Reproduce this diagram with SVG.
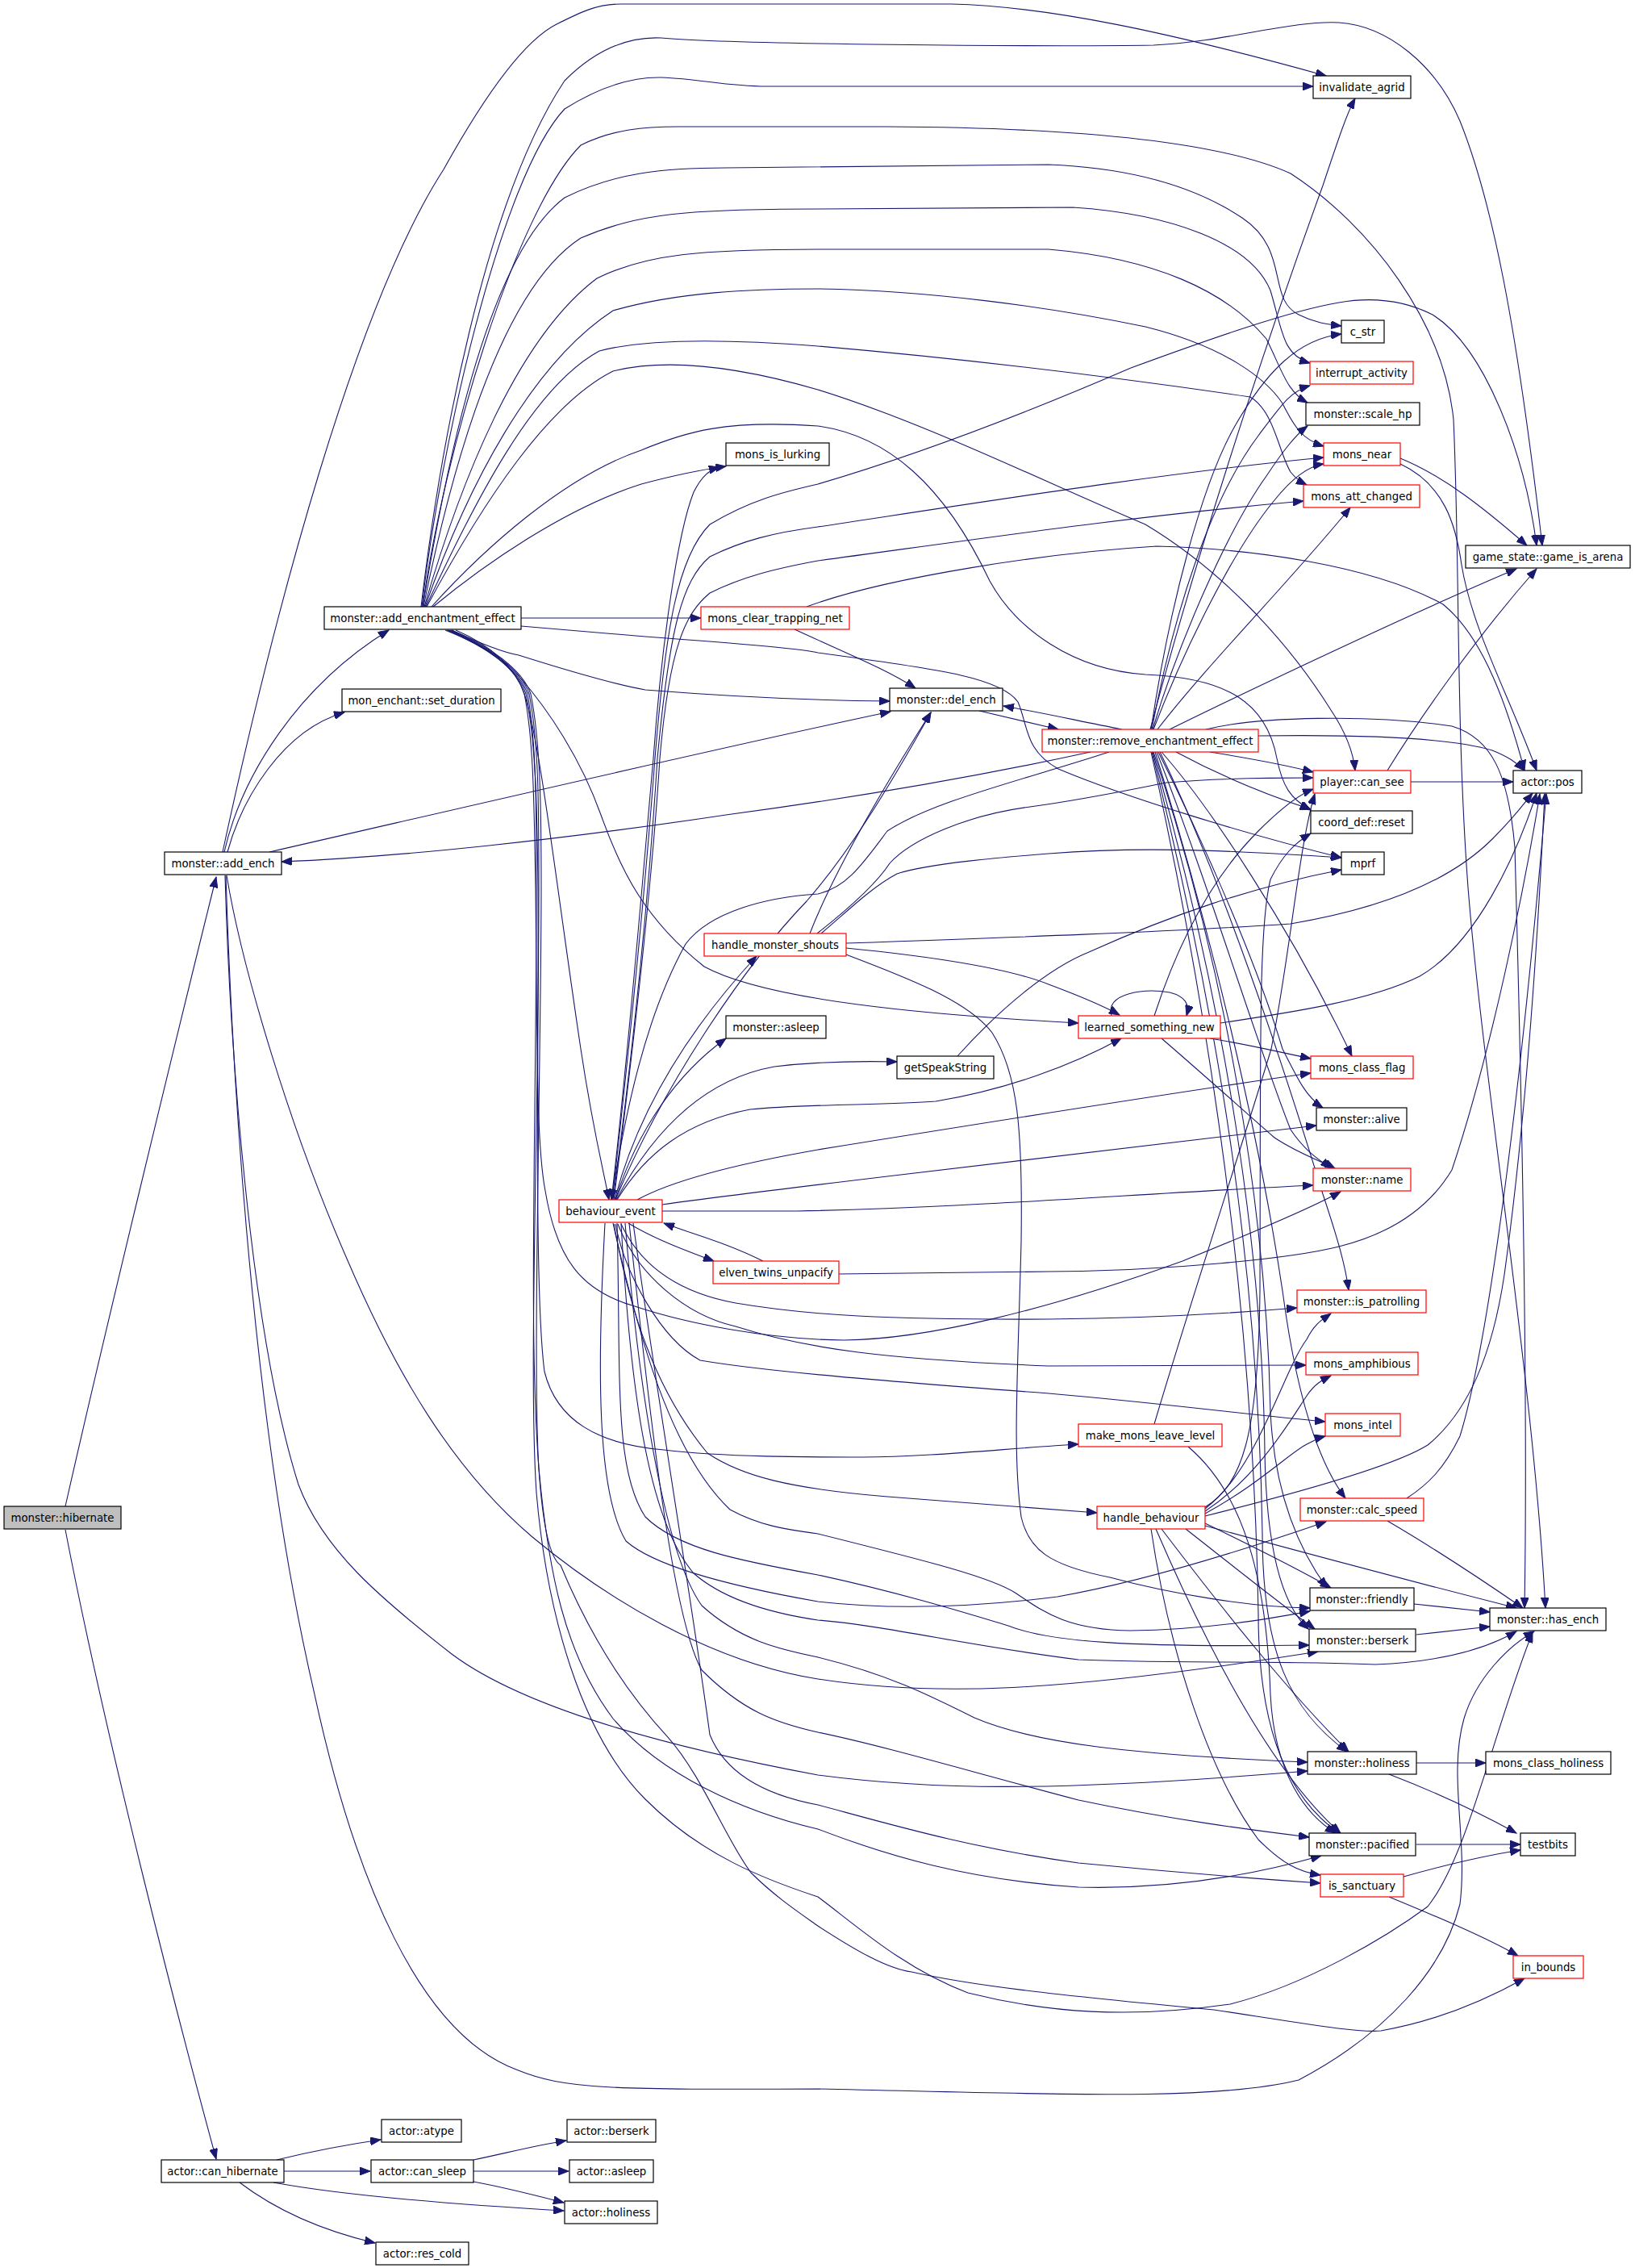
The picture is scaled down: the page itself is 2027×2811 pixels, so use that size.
<svg xmlns="http://www.w3.org/2000/svg" width="2027" height="2811" viewBox="0 0 2027 2811">
<style>
.node rect{fill:#ffffff;stroke:#000000;stroke-width:1.2}
.node.red rect{stroke:#ff0000}
.node.cur rect{fill:#bfbfbf}
.node text{font-family:"DejaVu Sans","Liberation Sans",sans-serif;font-size:13.3px;text-anchor:middle;fill:#000000}
.edges path{fill:none;stroke:#191970;stroke-width:1.1;marker-end:url(#arr)}
</style>
<defs>
<marker id="arr" markerUnits="userSpaceOnUse" markerWidth="14" markerHeight="10" refX="13" refY="5" orient="auto">
<path d="M0,0 L13,5 L0,10 z" fill="#191970" stroke="#191970"/>
</marker>
</defs>
<rect x="0" y="0" width="2027" height="2811" fill="#ffffff"/>
<g class="edges" id="edges">
<path d="M81,1867 C130,1650 220,1280 268,1087"/>
<path d="M81,1896 C130,2150 220,2500 268,2676"/>
<path d="M343,2677 C380,2668 430,2658 472,2652"/>
<path d="M352,2691 L459,2691"/>
<path d="M339,2705 C420,2720 560,2732 699,2740"/>
<path d="M297,2705 C330,2730 380,2760 465,2780"/>
<path d="M587,2677 C630,2668 660,2660 702,2653"/>
<path d="M587,2691 L705,2691"/>
<path d="M587,2704 C630,2712 660,2720 699,2730"/>
<path d="M278,1056 C300,960 370,850 482,781"/>
<path d="M282,1056 C300,990 350,905 427,883"/>
<path d="M276,1056 C340,760 440,380 550,210 C600,120 650,50 690,30 C720,15 740,5 770,5 L1180,5 C1300,8 1450,40 1644,94"/>
<path d="M334,1056 C600,995 900,925 1104,882"/>
<path d="M280,1085 C290,1400 320,1800 390,2100 C440,2330 520,2520 640,2565 C700,2590 760,2590 1014,2589 C1300,2595 1500,2605 1610,2578 C1720,2520 1790,2440 1810,2360 C1820,2280 1795,2200 1815,2130 C1830,2080 1870,2040 1902,2022"/>
<path d="M279,1085 C285,1300 310,1650 370,1840 C400,1920 470,1980 560,2050 C640,2110 800,2160 1014,2200 C1150,2218 1300,2222 1621,2195"/>
<path d="M281,1085 C300,1200 360,1400 430,1560 C490,1700 560,1820 660,1905 C750,1980 880,2060 1014,2081 C1150,2102 1300,2100 1634,2047"/>
<path d="M1352,932 C1200,965 1050,990 900,1010 C700,1040 500,1062 349,1068"/>
<path d="M522,752 C545,560 600,250 700,100 C740,60 780,45 820,47 C900,55 1300,58 1430,56 C1520,52 1600,25 1660,28 C1720,32 1780,80 1810,150 C1850,250 1880,400 1912,676"/>
<path d="M523,752 C545,560 620,220 700,135 C740,110 780,95 820,96 C870,98 900,107 950,107 L1628,107"/>
<path d="M524,752 C550,560 640,260 720,180 C760,160 800,157 840,157 L1100,157 C1300,158 1500,170 1600,215 C1700,280 1790,400 1802,520 C1810,700 1805,900 1820,1100 C1840,1350 1900,1700 1916,1993"/>
<path d="M524,752 C550,600 600,320 700,245 C760,215 820,208 900,208 L1300,204 C1400,208 1480,230 1540,270 C1600,310 1570,370 1610,390 C1630,400 1645,402 1663,404"/>
<path d="M525,752 C560,580 620,360 720,295 C790,265 850,259 1014,259 L1330,257 C1450,265 1550,300 1575,360 C1590,410 1590,440 1624,450"/>
<path d="M526,752 C570,600 640,420 740,345 C800,315 870,309 1014,309 L1300,309 C1430,320 1520,360 1570,420 C1590,460 1595,485 1621,499"/>
<path d="M527,752 C580,600 660,450 760,385 C840,362 930,358 1014,358 C1150,360 1300,380 1420,405 C1520,430 1570,470 1590,500 C1605,530 1615,545 1641,553"/>
<path d="M528,752 C590,620 660,480 743,435 C800,420 900,420 1014,429 C1200,445 1400,470 1550,492 C1580,510 1585,560 1600,585 C1608,595 1614,598 1620,601"/>
<path d="M529,752 C600,620 680,500 760,460 C820,445 900,450 1014,483 C1150,525 1300,600 1420,650 C1520,710 1600,800 1650,880 C1670,910 1678,935 1680,955"/>
<path d="M535,752 C600,680 700,590 795,558 C850,535 900,520 1014,528 C1100,540 1170,600 1227,720 C1260,780 1330,830 1420,836 C1520,840 1570,870 1583,940 C1590,975 1600,990 1625,1004"/>
<path d="M537,752 C600,700 700,630 795,600 C840,588 870,582 900,578"/>
<path d="M646,766 L869,766"/>
<path d="M560,781 C590,795 620,808 643,812 C700,830 760,848 800,855 C900,863 1000,868 1103,869"/>
<path d="M646,776 C720,782 760,786 800,789 C950,800 1000,805 1014,809 C1150,828 1240,838 1262,870 C1275,900 1270,930 1312,953 C1400,990 1550,1035 1663,1063"/>
<path d="M556,781 C600,800 630,820 645,840 C680,880 720,940 745,1010 C770,1080 800,1140 873,1198 C950,1240 1150,1258 1337,1268"/>
<path d="M565,781 C610,800 640,830 650,860 C670,920 690,1100 720,1300 C735,1400 748,1450 755,1487"/>
<path d="M552,781 C600,800 640,825 650,860 C662,920 662,1000 664,1100 C666,1300 665,1420 676,1476 C690,1560 720,1600 787,1619 C850,1640 950,1660 1046,1661 C1150,1660 1300,1623 1466,1563 C1560,1525 1630,1495 1662,1477"/>
<path d="M554,781 C600,800 642,828 652,860 C664,920 666,1000 667,1100 C668,1300 662,1600 675,1700 C690,1760 740,1790 823,1797 C900,1806 1000,1806 1069,1806 C1150,1806 1250,1795 1337,1790"/>
<path d="M556,781 C602,800 644,830 654,860 C665,920 665,1000 665,1100 C665,1400 655,1650 668,1820 C680,1950 700,2050 760,2130 C820,2200 920,2245 1014,2267 C1100,2300 1200,2330 1337,2339 C1450,2342 1550,2325 1638,2300"/>
<path d="M558,781 C604,800 646,830 656,860 C668,920 668,1000 668,1100 C668,1400 655,1700 665,1850 C678,2000 720,2150 800,2230 C870,2300 950,2330 1014,2351 C1060,2385 1120,2440 1200,2470 C1300,2495 1400,2502 1525,2484 C1620,2460 1720,2400 1770,2363 C1820,2300 1850,2150 1900,2023"/>
<path d="M560,781 C606,800 648,830 658,860 C670,920 671,1000 671,1100 C671,1300 660,1700 668,1820 C672,1880 680,1930 695,1940 C720,2000 760,2080 828,2153 C870,2200 900,2280 931,2321 C960,2350 990,2370 1014,2387 C1060,2417 1100,2440 1130,2444 C1200,2460 1300,2472 1505,2491 C1600,2505 1680,2520 1712,2517 C1780,2505 1840,2480 1890,2452"/>
<path d="M758,1487 C780,1300 800,1050 810,940 C820,800 840,660 860,610 C870,590 880,582 892,579"/>
<path d="M759,1487 C780,1300 800,1100 812,940 C825,780 840,690 880,650 C930,620 970,610 1014,600 C1150,560 1300,500 1402,456 C1500,420 1600,385 1660,375 C1700,368 1740,372 1776,390 C1840,430 1890,560 1905,676"/>
<path d="M760,1487 C785,1300 805,1100 815,940 C830,780 845,720 880,690 C920,670 960,660 1014,653 C1200,625 1450,585 1641,567"/>
<path d="M761,1487 C785,1300 808,1100 818,940 C830,800 850,760 880,735 C920,715 960,705 1014,695 C1200,670 1400,640 1616,621"/>
<path d="M763,1487 C820,1350 920,1200 1000,1117 C1050,1060 1100,980 1154,883"/>
<path d="M762,1487 C790,1380 850,1280 938,1185"/>
<path d="M763,1487 C790,1400 840,1330 900,1287"/>
<path d="M764,1487 C800,1420 860,1340 960,1322 C1020,1315 1070,1315 1112,1316"/>
<path d="M765,1487 C800,1430 850,1390 930,1375 C1000,1368 1100,1370 1160,1365 C1250,1350 1330,1320 1390,1287"/>
<path d="M790,1487 C830,1465 900,1445 1014,1425 C1200,1395 1450,1355 1625,1330"/>
<path d="M821,1493 C900,1482 1000,1470 1100,1458 C1300,1435 1500,1410 1632,1395"/>
<path d="M821,1501 L988,1501 C1200,1497 1400,1480 1628,1469"/>
<path d="M779,1516 C810,1535 850,1550 885,1563"/>
<path d="M946,1563 C900,1540 860,1530 823,1516"/>
<path d="M770,1517 C790,1560 830,1600 912,1615 C1000,1630 1100,1636 1300,1635 C1400,1634 1500,1630 1608,1621"/>
<path d="M766,1517 C790,1580 850,1630 912,1644 C1000,1672 1100,1685 1300,1693 L1619,1692"/>
<path d="M763,1517 C775,1580 820,1660 868,1686 C950,1700 1100,1712 1300,1727 C1450,1740 1560,1755 1643,1762"/>
<path d="M761,1517 C780,1620 810,1720 877,1801 C920,1830 980,1845 1100,1855 C1200,1862 1300,1870 1360,1875"/>
<path d="M760,1516 C790,1650 830,1800 905,1871 C940,1890 970,1895 1014,1901 C1150,1935 1230,1955 1260,1975 C1290,1995 1320,2020 1402,2021 C1500,2020 1580,2005 1624,1997"/>
<path d="M765,1516 C770,1700 760,1820 800,1880 C840,1920 920,1935 1014,1952 C1120,1975 1200,2000 1250,2015 C1300,2035 1400,2042 1623,2039"/>
<path d="M750,1516 C740,1700 740,1850 776,1910 C810,1940 900,1965 1014,1985 C1100,1995 1200,1993 1311,1979 C1420,1960 1560,1915 1644,1886"/>
<path d="M770,1516 C780,1700 800,1880 860,1950 C900,1985 960,2000 1014,2008 C1100,2015 1200,2040 1337,2057 C1450,2062 1600,2058 1705,2063 C1780,2060 1840,2045 1880,2022"/>
<path d="M775,1516 C790,1700 820,1920 870,1990 C920,2035 970,2045 1014,2054 C1100,2075 1150,2100 1208,2129 C1280,2160 1400,2175 1621,2184"/>
<path d="M780,1516 C800,1700 830,2000 870,2070 C920,2120 960,2135 1014,2147 C1100,2165 1200,2195 1337,2231 C1450,2255 1550,2268 1623,2277"/>
<path d="M785,1516 C810,1700 860,2000 880,2150 C900,2200 950,2225 1014,2237 C1100,2260 1200,2290 1337,2309 C1450,2320 1550,2328 1637,2334"/>
<path d="M1040,1579 L1300,1576 C1450,1575 1600,1560 1660,1545 C1720,1530 1770,1500 1800,1450 C1850,1300 1890,1100 1909,984"/>
<path d="M1049,1175 C1150,1185 1250,1200 1300,1220 C1340,1235 1365,1245 1388,1258"/>
<path d="M1013,1157 C1060,1120 1090,1090 1103,1070 C1130,1040 1200,1010 1277,1000 C1350,990 1420,975 1446,970 C1500,965 1580,964 1628,964"/>
<path d="M1018,1157 C1050,1130 1080,1100 1112,1083 C1150,1070 1250,1062 1300,1058 C1400,1050 1500,1052 1663,1063"/>
<path d="M1004,1157 C1030,1090 1080,1000 1154,883"/>
<path d="M1049,1169 C1250,1162 1450,1155 1600,1145 C1720,1125 1800,1090 1850,1040 C1880,1010 1890,995 1900,983"/>
<path d="M1049,1183 C1120,1210 1200,1240 1230,1280 C1262,1330 1268,1400 1266,1540 C1262,1700 1255,1800 1266,1880 C1275,1920 1300,1940 1376,1955 C1450,1975 1550,1992 1624,1993"/>
<path d="M1187,1309 C1240,1250 1300,1200 1350,1180 C1450,1135 1550,1100 1663,1078"/>
<path d="M985,780 C1050,810 1100,830 1135,853"/>
<path d="M1000,752 C1100,715 1300,685 1434,677 C1550,680 1700,700 1789,749 C1840,790 1870,880 1890,955"/>
<path d="M1378,1259 C1370,1230 1420,1225 1450,1230 C1470,1235 1475,1245 1471,1259"/>
<path d="M1431,1259 C1460,1170 1500,1090 1560,1030 C1590,1000 1610,985 1628,978"/>
<path d="M1513,1268 C1600,1255 1700,1240 1760,1210 C1830,1170 1880,1060 1905,983"/>
<path d="M1500,1287 C1550,1295 1590,1305 1625,1312"/>
<path d="M1440,1287 C1490,1330 1540,1375 1580,1410 C1610,1430 1640,1440 1655,1448"/>
<path d="M1214,881 L1312,904"/>
<path d="M1391,904 C1330,892 1290,883 1244,875"/>
<path d="M1426,904 C1480,700 1560,450 1640,230 C1660,170 1670,140 1680,122"/>
<path d="M1427,904 C1450,750 1490,600 1531,528 C1570,460 1610,420 1663,414"/>
<path d="M1428,904 C1455,760 1500,620 1560,540 C1590,500 1600,485 1624,478"/>
<path d="M1429,904 C1460,800 1520,660 1570,590 C1590,560 1605,540 1621,528"/>
<path d="M1430,904 C1470,800 1530,680 1580,620 C1600,595 1620,578 1641,575"/>
<path d="M1435,904 C1500,820 1600,720 1674,629"/>
<path d="M1450,904 C1550,855 1750,760 1880,705"/>
<path d="M1375,932 C1268,967 1156,993 1100,1030 C1070,1070 1050,1100 1014,1108 C950,1112 880,1130 850,1170 C800,1260 775,1380 758,1487"/>
<path d="M1560,912 C1700,910 1800,915 1850,930 C1870,938 1880,945 1890,955"/>
<path d="M1495,904 C1560,888 1700,885 1800,900 C1850,915 1870,960 1878,1050 C1885,1300 1895,1700 1890,1993"/>
<path d="M1500,932 C1550,940 1590,947 1628,957"/>
<path d="M1458,932 C1510,960 1570,985 1625,1003"/>
<path d="M1440,932 C1500,1000 1600,1150 1676,1309"/>
<path d="M1436,932 C1500,1060 1560,1200 1590,1300 C1610,1340 1620,1360 1640,1373"/>
<path d="M1434,932 C1500,1100 1560,1300 1600,1400 C1620,1430 1640,1440 1650,1448"/>
<path d="M1438,932 C1520,1100 1600,1350 1640,1480 C1660,1540 1668,1570 1672,1599"/>
<path d="M1432,932 C1500,1150 1560,1400 1590,1600 C1610,1750 1640,1820 1668,1857"/>
<path d="M1430,932 C1520,1200 1570,1500 1575,1750 C1580,1850 1610,1920 1645,1968"/>
<path d="M1429,932 C1520,1250 1565,1550 1568,1800 C1570,1920 1590,1990 1622,2019"/>
<path d="M1428,932 C1520,1300 1560,1600 1565,1900 C1565,2050 1600,2120 1670,2171"/>
<path d="M1427,932 C1520,1350 1555,1700 1560,2000 C1560,2150 1600,2230 1660,2272"/>
<path d="M1720,955 C1760,890 1830,790 1905,705"/>
<path d="M1736,568 C1790,590 1840,630 1893,676"/>
<path d="M1736,575 C1790,600 1805,650 1812,700 C1825,780 1870,860 1905,955"/>
<path d="M1749,969 L1876,969"/>
<path d="M1494,1888 C1560,1920 1610,1945 1650,1968"/>
<path d="M1494,1891 C1600,1920 1750,1960 1880,1993"/>
<path d="M1470,1895 C1540,1950 1590,1990 1630,2019"/>
<path d="M1440,1895 C1520,2000 1600,2100 1672,2171"/>
<path d="M1433,1895 C1500,2050 1580,2200 1662,2272"/>
<path d="M1427,1895 C1450,2050 1500,2200 1560,2280 C1590,2310 1610,2320 1637,2324"/>
<path d="M1494,1870 C1560,1820 1590,1700 1620,1660 C1630,1640 1640,1635 1650,1628"/>
<path d="M1494,1873 C1560,1830 1600,1760 1620,1730 C1630,1715 1640,1710 1650,1705"/>
<path d="M1494,1876 C1560,1840 1600,1800 1620,1790 C1630,1785 1635,1782 1643,1780"/>
<path d="M1494,1879 C1650,1840 1740,1810 1770,1791 C1820,1750 1850,1680 1865,1580 C1890,1400 1905,1200 1915,984"/>
<path d="M1494,1868 C1540,1840 1560,1780 1562,1600 C1563,1300 1560,1150 1575,1090 C1590,1060 1605,1045 1625,1033"/>
<path d="M1744,1857 C1770,1840 1790,1821 1810,1780 C1850,1650 1890,1300 1917,984"/>
<path d="M1720,1885 C1780,1920 1840,1960 1888,1993"/>
<path d="M1431,1765 C1480,1600 1540,1420 1576,1300 C1600,1180 1610,1050 1630,984"/>
<path d="M1473,1793 C1540,1850 1570,1950 1575,2100 C1580,2200 1620,2250 1656,2272"/>
<path d="M1753,1988 L1847,1998"/>
<path d="M1756,2026 L1847,2016"/>
<path d="M1756,2185 L1842,2185"/>
<path d="M1722,2199 C1790,2225 1840,2250 1880,2272"/>
<path d="M1756,2286 L1885,2286"/>
<path d="M1740,2326 C1790,2312 1840,2300 1885,2293"/>
<path d="M1722,2351 C1780,2375 1840,2400 1882,2424"/>
</g>
<g id="n_hibernate" class="node cur"><rect x="5" y="1867" width="145" height="28"/><text x="77.5" y="1885.5">monster::hibernate</text></g>
<g id="n_add_ench" class="node"><rect x="204" y="1056" width="145" height="28"/><text x="276.5" y="1074.5">monster::add_ench</text></g>
<g id="n_can_hibernate" class="node"><rect x="200" y="2677" width="152" height="28"/><text x="276" y="2695.5">actor::can_hibernate</text></g>
<g id="n_add_enchantment_effect" class="node"><rect x="402" y="752" width="244" height="28"/><text x="524" y="770.5">monster::add_enchantment_effect</text></g>
<g id="n_set_duration" class="node"><rect x="424" y="854" width="197" height="28"/><text x="522.5" y="872.5">mon_enchant::set_duration</text></g>
<g id="n_mons_is_lurking" class="node"><rect x="900" y="549" width="128" height="28"/><text x="964" y="567.5">mons_is_lurking</text></g>
<g id="n_mons_clear_trapping_net" class="node red"><rect x="869" y="752" width="184" height="28"/><text x="961" y="770.5">mons_clear_trapping_net</text></g>
<g id="n_del_ench" class="node"><rect x="1103" y="853" width="140" height="28"/><text x="1173" y="871.5">monster::del_ench</text></g>
<g id="n_remove_enchantment_effect" class="node red"><rect x="1292" y="904" width="268" height="28"/><text x="1426" y="922.5">monster::remove_enchantment_effect</text></g>
<g id="n_handle_monster_shouts" class="node red"><rect x="873" y="1157" width="176" height="28"/><text x="961" y="1175.5">handle_monster_shouts</text></g>
<g id="n_asleep" class="node"><rect x="900" y="1259" width="124" height="28"/><text x="962" y="1277.5">monster::asleep</text></g>
<g id="n_getSpeakString" class="node"><rect x="1112" y="1309" width="120" height="28"/><text x="1172" y="1327.5">getSpeakString</text></g>
<g id="n_learned_something_new" class="node red"><rect x="1337" y="1259" width="176" height="28"/><text x="1425" y="1277.5">learned_something_new</text></g>
<g id="n_behaviour_event" class="node red"><rect x="693" y="1487" width="128" height="28"/><text x="757" y="1505.5">behaviour_event</text></g>
<g id="n_elven_twins_unpacify" class="node red"><rect x="884" y="1563" width="156" height="28"/><text x="962" y="1581.5">elven_twins_unpacify</text></g>
<g id="n_make_mons_leave_level" class="node red"><rect x="1337" y="1765" width="178" height="28"/><text x="1426" y="1783.5">make_mons_leave_level</text></g>
<g id="n_handle_behaviour" class="node red"><rect x="1360" y="1867" width="134" height="28"/><text x="1427" y="1885.5">handle_behaviour</text></g>
<g id="n_invalidate_agrid" class="node"><rect x="1628" y="94" width="121" height="28"/><text x="1688.5" y="112.5">invalidate_agrid</text></g>
<g id="n_c_str" class="node"><rect x="1663" y="397" width="53" height="28"/><text x="1689.5" y="415.5">c_str</text></g>
<g id="n_interrupt_activity" class="node red"><rect x="1624" y="448" width="128" height="28"/><text x="1688" y="466.5">interrupt_activity</text></g>
<g id="n_scale_hp" class="node"><rect x="1619" y="499" width="141" height="28"/><text x="1689.5" y="517.5">monster::scale_hp</text></g>
<g id="n_mons_near" class="node red"><rect x="1641" y="549" width="95" height="28"/><text x="1688.5" y="567.5">mons_near</text></g>
<g id="n_mons_att_changed" class="node red"><rect x="1616" y="601" width="144" height="28"/><text x="1688" y="619.5">mons_att_changed</text></g>
<g id="n_game_is_arena" class="node"><rect x="1817" y="676" width="204" height="28"/><text x="1919" y="694.5">game_state::game_is_arena</text></g>
<g id="n_can_see" class="node red"><rect x="1628" y="955" width="121" height="28"/><text x="1688.5" y="973.5">player::can_see</text></g>
<g id="n_actor_pos" class="node"><rect x="1876" y="955" width="85" height="28"/><text x="1918.5" y="973.5">actor::pos</text></g>
<g id="n_coord_def_reset" class="node"><rect x="1625" y="1005" width="126" height="28"/><text x="1688" y="1023.5">coord_def::reset</text></g>
<g id="n_mprf" class="node"><rect x="1663" y="1056" width="53" height="28"/><text x="1689.5" y="1074.5">mprf</text></g>
<g id="n_mons_class_flag" class="node red"><rect x="1625" y="1309" width="127" height="28"/><text x="1688.5" y="1327.5">mons_class_flag</text></g>
<g id="n_alive" class="node"><rect x="1632" y="1373" width="112" height="28"/><text x="1688" y="1391.5">monster::alive</text></g>
<g id="n_name" class="node red"><rect x="1628" y="1448" width="121" height="28"/><text x="1688.5" y="1466.5">monster::name</text></g>
<g id="n_is_patrolling" class="node red"><rect x="1608" y="1599" width="160" height="28"/><text x="1688" y="1617.5">monster::is_patrolling</text></g>
<g id="n_mons_amphibious" class="node red"><rect x="1619" y="1676" width="139" height="28"/><text x="1688.5" y="1694.5">mons_amphibious</text></g>
<g id="n_mons_intel" class="node red"><rect x="1643" y="1752" width="93" height="28"/><text x="1689.5" y="1770.5">mons_intel</text></g>
<g id="n_calc_speed" class="node red"><rect x="1612" y="1857" width="153" height="28"/><text x="1688.5" y="1875.5">monster::calc_speed</text></g>
<g id="n_friendly" class="node"><rect x="1624" y="1968" width="129" height="28"/><text x="1688.5" y="1986.5">monster::friendly</text></g>
<g id="n_has_ench" class="node"><rect x="1847" y="1993" width="144" height="28"/><text x="1919" y="2011.5">monster::has_ench</text></g>
<g id="n_berserk" class="node"><rect x="1623" y="2019" width="132" height="28"/><text x="1689" y="2037.5">monster::berserk</text></g>
<g id="n_holiness" class="node"><rect x="1621" y="2171" width="135" height="28"/><text x="1688.5" y="2189.5">monster::holiness</text></g>
<g id="n_mons_class_holiness" class="node"><rect x="1842" y="2171" width="155" height="28"/><text x="1919.5" y="2189.5">mons_class_holiness</text></g>
<g id="n_pacified" class="node"><rect x="1623" y="2272" width="132" height="28"/><text x="1689" y="2290.5">monster::pacified</text></g>
<g id="n_testbits" class="node"><rect x="1885" y="2272" width="68" height="28"/><text x="1919" y="2290.5">testbits</text></g>
<g id="n_is_sanctuary" class="node red"><rect x="1637" y="2323" width="103" height="28"/><text x="1688.5" y="2341.5">is_sanctuary</text></g>
<g id="n_in_bounds" class="node red"><rect x="1876" y="2424" width="87" height="28"/><text x="1919.5" y="2442.5">in_bounds</text></g>
<g id="n_actor_atype" class="node"><rect x="473" y="2627" width="99" height="28"/><text x="522.5" y="2645.5">actor::atype</text></g>
<g id="n_actor_can_sleep" class="node"><rect x="460" y="2677" width="127" height="28"/><text x="523.5" y="2695.5">actor::can_sleep</text></g>
<g id="n_actor_berserk" class="node"><rect x="703" y="2627" width="110" height="28"/><text x="758" y="2645.5">actor::berserk</text></g>
<g id="n_actor_asleep" class="node"><rect x="706" y="2677" width="104" height="28"/><text x="758" y="2695.5">actor::asleep</text></g>
<g id="n_actor_holiness" class="node"><rect x="700" y="2728" width="115" height="28"/><text x="757.5" y="2746.5">actor::holiness</text></g>
<g id="n_actor_res_cold" class="node"><rect x="466" y="2779" width="115" height="28"/><text x="523.5" y="2797.5">actor::res_cold</text></g>
</svg>
